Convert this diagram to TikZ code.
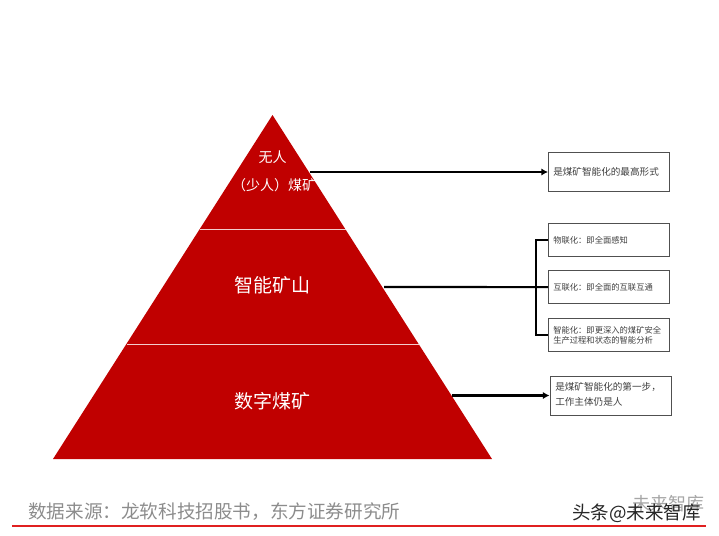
\documentclass[tikz,border=0pt]{standalone}
\usepackage{fontspec}
\setmainfont{Noto Sans CJK SC}
\usetikzlibrary{arrows.meta}
\definecolor{pyr}{HTML}{C00000}
\definecolor{src}{HTML}{8C8C8C}
\definecolor{edge}{HTML}{505050}
\definecolor{rule}{HTML}{E02020}
\newcommand{\fs}[1]{\fontsize{\the\dimexpr #1pt*3/4\relax}{\the\dimexpr #1pt*9/10\relax}\selectfont}
\tikzset{
  infobox/.style={draw=edge,line width=0.9pt,fill=white,inner sep=0pt,anchor=north west,text=black!75},
  layer/.style={text=white,inner sep=0pt,align=center},
  conn/.style={line width=1.6pt,black},
  arr/.style={conn,-{Latex[length=5pt,width=5.5pt]}},
}
\begin{document}
\begin{tikzpicture}[x=0.75pt,y=-0.75pt]
\useasboundingbox (0,0) rectangle (719,536);
% pyramid
\fill[pyr] (272.5,115) -- (492,459) -- (53,459) -- cycle;
\draw[white!80!pyr,line width=0.5pt] (199.5,229) -- (345.5,229);
\draw[white!80!pyr,line width=0.5pt] (126.5,344) -- (418.5,344);
% layer labels
\node[layer,font=\fs{14}] (n1a) at (272.5,157) {无人};
\node[layer,font=\fs{14}] (n1b) at (274,185) {（少人）煤矿};
\node[layer,font=\fs{19}] (n2) at (272.5,285.5) {智能矿山};
\node[layer,font=\fs{19}] (n3) at (272.5,401) {数字煤矿};
% boxes
\node[infobox,minimum width=90.75pt,minimum height=29.25pt] (b1) at (548,152) {};
\node[anchor=west,inner sep=0pt,font=\fs{9.6},text=black!75] (t1) at (553,172) {是煤矿智能化的最高形式};
\node[infobox,minimum width=90.75pt,minimum height=24.75pt] (b2) at (548,223) {};
\node[anchor=west,inner sep=0pt,font=\fs{8.3},text=black!75] (t2) at (553,240) {物联化：即全面感知};
\node[infobox,minimum width=90.75pt,minimum height=24.75pt] (b3) at (548,270) {};
\node[anchor=west,inner sep=0pt,font=\fs{8.3},text=black!75] (t3) at (553,287) {互联化：即全面的互联互通};
\node[infobox,minimum width=90.75pt,minimum height=24.75pt] (b4) at (548,318) {};
\node[anchor=west,inner sep=0pt,font=\fs{8.3},text=black!75,align=left] (t4) at (553,335) {智能化：即更深入的煤矿安全\\生产过程和状态的智能分析};
\node[infobox,minimum width=90.75pt,minimum height=29.25pt] (b5) at (549.5,376) {};
\node[anchor=west,inner sep=0pt,font=\fs{9.6},text=black!75,align=left] (t5) at (555,394.5) {是煤矿智能化的第一步，\\[3pt]工作主体仍是人};
% connectors
\coordinate (c1) at (310,172);
\coordinate (c2) at (384,287);
\coordinate (c3) at (452,395.5);
\coordinate (bus) at (536,287);
\draw[arr] (c1) -- (c1-|b1.west);
\draw[conn] (c2) -- (b3.west);
\draw[conn] (b2.west) -- (b2.west-|bus) -- (b4.west-|bus) -- (b4.west);
\draw[arr] (c3) -- (c3-|b5.west);
% footer
\node[anchor=west,inner sep=0pt,font=\fs{18.6},text=src] (src) at (28,512) {数据来源：龙软科技招股书，东方证券研究所};
\draw[rule,line width=1.6pt] (12,526) -- (706,526);
\node[anchor=west,inner sep=0pt,font=\fs{18},text=black!35] (w0) at (632,504) {未来智库};
\node[anchor=west,inner sep=0pt,font=\fs{18.5},text=black!85] (w1) at (572,513) {头条@未来智库};
\end{tikzpicture}
\end{document}
